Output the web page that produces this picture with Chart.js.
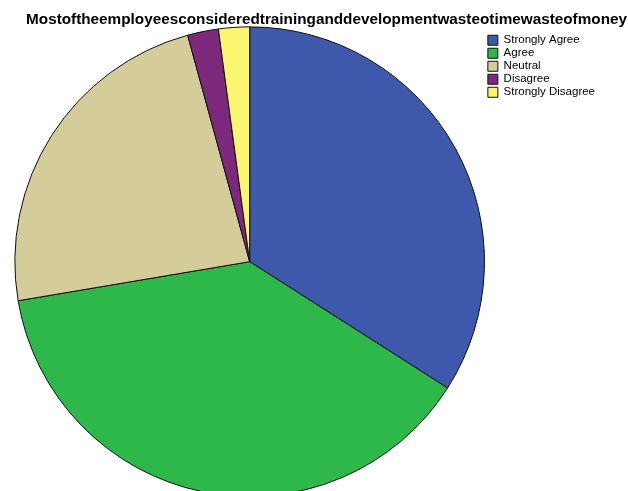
<!DOCTYPE html>
<html>
<head>
<meta charset="utf-8">
<script src="https://cdn.jsdelivr.net/npm/chart.js@4/dist/chart.umd.min.js"></script>
<style>
  html, body { margin: 0; padding: 0; background: #fff; overflow: hidden; }
</style>
</head>
<body>
<canvas id="myChart" width="628" height="497"></canvas>
<script>
// answers to the survey question
const labels = ['Strongly Agree', 'Agree', 'Neutral', 'Disagree', 'Strongly Disagree'];
const counts = [16, 18, 11, 1, 1];
const colors = ['rgb(62, 88, 172)', 'rgb(46, 184, 74)', 'rgb(212, 204, 153)', 'rgb(124, 40, 125)', 'rgb(250, 246, 112)'];
const titleText = 'Mostoftheemployeesconsideredtraininganddevelopmentwasteotimewasteofmoney';

const data = {
    labels: labels,
    datasets: [{
        data: counts,
        backgroundColor: colors,
        borderColor: '#111',
        borderWidth: 1,
    }]
};

// the title runs across the whole canvas, ignoring the layout padding
const titleShift = {
    id: 'titleShift',
    afterLayout(chart) {
        chart.titleBlock.left = 0;
        chart.titleBlock.right = chart.width - 1;
    }
};

const config = {
    type: 'pie',
    data: data,
    plugins: [titleShift],
    options: {
        responsive: false,
        animation: false,
        layout: {
            padding: { left: 13, right: 23, top: 0, bottom: 0 }
        },
        plugins: {
            title: {
                display: true,
                text: titleText,
                align: 'end',
                color: '#000',
                font: { family: 'Liberation Sans, Arial, sans-serif', size: 15.3, weight: 'bold' },
                padding: { top: 11, bottom: -3 },
            },
            legend: {
                position: 'right',
                align: 'start',
                // empty title just pushes the items below the chart title
                title: {
                    display: true,
                    text: '',
                    font: { size: 10 },
                    padding: { top: 0, bottom: 21 },
                },
                labels: {
                    color: '#000',
                    boxWidth: 10,
                    boxHeight: 10,
                    padding: 1.5,
                    font: { family: 'Liberation Sans, Arial, sans-serif', size: 11.5 },
                }
            },
            tooltip: { enabled: false }
        }
    }
};

var myChart = new Chart(
    document.getElementById('myChart'),
    config
);
</script>
</body>
</html>
